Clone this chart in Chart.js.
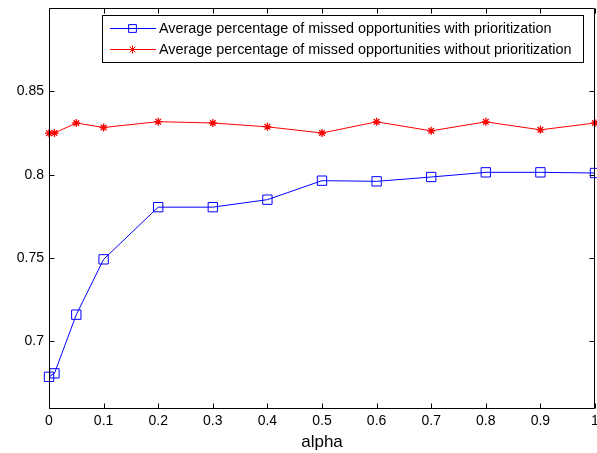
<!DOCTYPE html>
<html>
<head>
<meta charset="utf-8">
<script src="https://cdn.jsdelivr.net/npm/chart.js@4/dist/chart.umd.min.js"></script>
<style>
  html, body { margin: 0; padding: 0; background: #ffffff; }
  #wrap { width: 597px; height: 453px; }
</style>
</head>
<body>
<div id="wrap"><canvas id="c" width="597" height="453"></canvas></div>
<script>
// alpha values at which the experiment was run
const alpha = [0, 0.01, 0.05, 0.1, 0.2, 0.3, 0.4, 0.5, 0.6, 0.7, 0.8, 0.9, 1.0];

// average fraction of missed opportunities
const withPrioritization    = [0.6787, 0.6808, 0.7160, 0.7492, 0.7805, 0.7805, 0.7850, 0.7964, 0.7960, 0.7986, 0.8014, 0.8014, 0.8010];
const withoutPrioritization = [0.8249, 0.8250, 0.8310, 0.8283, 0.8318, 0.8310, 0.8287, 0.8250, 0.8317, 0.8263, 0.8317, 0.8269, 0.8310];

// axis ticks
const xTicks = [0, 0.1, 0.2, 0.3, 0.4, 0.5, 0.6, 0.7, 0.8, 0.9, 1];
const yTicks = [0.7, 0.75, 0.8, 0.85];

const seriesLabels = [
  'Average percentage of missed opportunities with prioritization',
  'Average percentage of missed opportunities without prioritization'
];

const FONT = '"Liberation Sans", Arial, sans-serif';

const toPoints = (ys) => alpha.map((x, i) => ({ x: x, y: ys[i] }));
const fmt = (v) => String(Math.round(v * 100) / 100);

// Axes box with inward tick marks on all four sides, plus the boxed legend
const framePlugin = {
  id: 'frame',
  afterDatasetsDraw(chart) {
    const { ctx, chartArea: a, scales } = chart;
    const tl = 5;
    const L = Math.round(a.left) + 0.5, R = Math.round(a.right) - 0.5;
    const T = Math.round(a.top) + 0.5, B = Math.round(a.bottom) + 0.5;
    ctx.save();
    ctx.strokeStyle = '#000000';
    ctx.lineWidth = 1;
    ctx.beginPath();
    ctx.rect(L, T, R - L, B - T);
    xTicks.forEach(v => {
      const px = Math.round(scales.x.getPixelForValue(v)) + 0.5;
      ctx.moveTo(px, B); ctx.lineTo(px, B - tl);
      ctx.moveTo(px, T); ctx.lineTo(px, T + tl);
    });
    yTicks.forEach(v => {
      const py = Math.round(scales.y.getPixelForValue(v)) + 0.5;
      ctx.moveTo(L, py); ctx.lineTo(L + tl, py);
      ctx.moveTo(R, py); ctx.lineTo(R - tl, py);
    });
    ctx.stroke();

    // legend
    const box = { left: 102, top: 15, right: 583, bottom: 62 };
    ctx.fillStyle = '#ffffff';
    ctx.fillRect(box.left, box.top, box.right - box.left, box.bottom - box.top);
    ctx.strokeStyle = '#000000';
    ctx.strokeRect(box.left + 0.5, box.top + 0.5, box.right - box.left, box.bottom - box.top);
    const rows = [28.5, 49.5];
    const legendRadius = [5.5, 4];
    chart.data.datasets.forEach((ds, i) => {
      const y = rows[i];
      ctx.strokeStyle = ds.borderColor;
      ctx.lineWidth = 1;
      ctx.beginPath();
      ctx.moveTo(110, y);
      ctx.lineTo(156, y);
      ctx.stroke();
      ctx.strokeStyle = ds.pointBorderColor;
      ctx.fillStyle = ds.pointBackgroundColor;
      Chart.helpers.drawPoint(ctx, {
        pointStyle: ds.pointStyle,
        radius: legendRadius[i],
        borderWidth: ds.pointBorderWidth || 1
      }, 132.5, y);
      ctx.fillStyle = '#000000';
      ctx.font = '14.4px ' + FONT;
      ctx.textBaseline = 'middle';
      ctx.textAlign = 'left';
      ctx.fillText(ds.label, 159, y + 0.5);
    });
    ctx.restore();
  }
};

new Chart(document.getElementById('c'), {
  type: 'line',
  data: {
    datasets: [
      {
        label: seriesLabels[0],
        data: toPoints(withPrioritization),
        borderColor: '#0000ff',
        backgroundColor: 'rgba(0,0,0,0)',
        borderWidth: 1,
        pointStyle: 'rect',
        pointRadius: 6.6,
        pointHoverRadius: 6.6,
        pointBorderWidth: 1,
        pointBorderColor: '#0000ff',
        pointBackgroundColor: 'rgba(0,0,0,0)',
        tension: 0,
        clip: false
      },
      {
        label: seriesLabels[1],
        data: toPoints(withoutPrioritization),
        borderColor: '#ff0000',
        backgroundColor: 'rgba(0,0,0,0)',
        borderWidth: 1,
        pointStyle: 'star',
        pointRadius: 4,
        pointHoverRadius: 4,
        pointBorderWidth: 1.3,
        pointBorderColor: '#ff0000',
        pointBackgroundColor: '#ff0000',
        tension: 0,
        clip: false
      }
    ]
  },
  options: {
    responsive: false,
    animation: false,
    devicePixelRatio: 1,
    layout: { autoPadding: false, padding: { left: 0, right: 2, top: 8, bottom: 0 } },
    plugins: {
      legend: { display: false },
      tooltip: { enabled: false }
    },
    scales: {
      x: {
        type: 'linear',
        min: 0,
        max: 1,
        afterBuildTicks: (s) => { s.ticks = xTicks.map(v => ({ value: v })); },
        afterFit: (s) => { s.height = 45; s.paddingLeft = 0; s.paddingRight = 0; },
        grid: { display: false, drawTicks: false },
        border: { display: false },
        ticks: {
          callback: (v) => fmt(v),
          font: { family: FONT, size: 14 },
          color: '#000000',
          padding: 5,
          maxRotation: 0,
          autoSkip: false
        },
        title: {
          display: true,
          text: 'alpha',
          font: { family: FONT, size: 17 },
          color: '#000000',
          padding: { top: 0, bottom: 0 }
        }
      },
      y: {
        type: 'linear',
        min: 0.66,
        max: 0.9,
        afterBuildTicks: (s) => { s.ticks = yTicks.map(v => ({ value: v })); },
        afterFit: (s) => { s.width = 49; s.paddingTop = 0; s.paddingBottom = 0; },
        grid: { display: false, drawTicks: false },
        border: { display: false },
        ticks: {
          callback: (v) => fmt(v),
          font: { family: FONT, size: 14 },
          color: '#000000',
          padding: 5
        }
      }
    }
  },
  plugins: [framePlugin]
});
</script>
</body>
</html>
